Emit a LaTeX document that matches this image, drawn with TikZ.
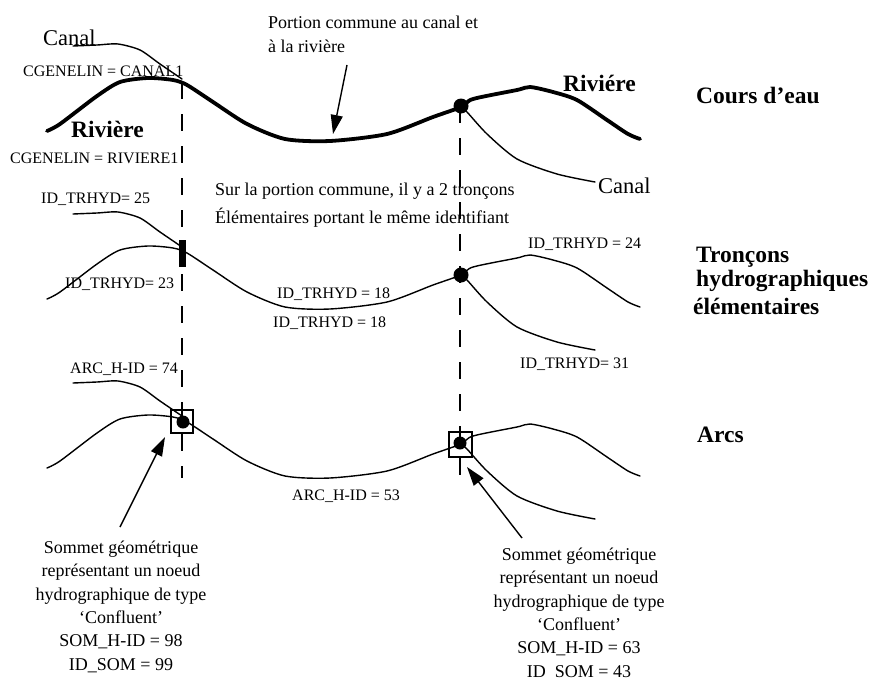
\documentclass[tikz,border=0pt]{standalone}
\usepackage{fontspec}
\setmainfont{Liberation Serif}
\usetikzlibrary{arrows.meta}
\begin{document}
\begin{tikzpicture}[x=1pt,y=-1pt,
  thinline/.style={line width=1.4pt, line join=round, line cap=round},
  guide/.style={line width=1.4pt, dash pattern=on 17pt off 15pt},
  lbl/.style={anchor=base west, inner sep=0pt, font=\fontsize{16}{19}\selectfont},
  bodytxt/.style={anchor=base west, inner sep=0pt, font=\fontsize{18}{24}\selectfont},
  ttl/.style={anchor=base west, inner sep=0pt, font=\fontsize{23.5}{26}\selectfont\bfseries},
  canaltxt/.style={anchor=base west, inner sep=0pt, font=\fontsize{22.5}{26}\selectfont},
  pointer/.style={line width=1.4pt, -{Triangle[length=19pt,width=12pt]}},
  note/.style={align=center, inner sep=0pt, anchor=north, font=\fontsize{18}{23.4}\selectfont},
  junction/.style={line width=1.6pt, fill=white},
]
\useasboundingbox (0,0) rectangle (872,677);

% dashed guide lines
\coordinate (gL1) at (182,82);
\coordinate (gL2) at (182,478);
\coordinate (gR1) at (460,106);
\coordinate (gR2) at (460,478);
\draw[guide] (gL1) -- (gL2);
\draw[guide] (gR1) -- (gR2);

% three rows of the same network
\foreach \dy/\mw in {-168/3.8pt, 0/1.4pt, 169/1.4pt}{
  \begin{scope}[shift={(0,\dy)}]
    \draw[thinline, line width=\mw] plot[smooth, tension=0.45] coordinates {
      (47,299) (60,292) (97,264) (120,250) (148,246) (173,248) (187,253)
      (213,270) (247,292) (285,307) (330,309) (387,302) (433,285) (461,275)
      (473,267) (517,258) (530,255) (553,260) (577,268) (607,288) (628,302) (640,307)};
    \draw[thinline] plot[smooth, tension=0.45] coordinates {
      (73,214) (97,213) (118,212) (140,218) (160,232) (182,247)};
    \draw[thinline] plot[smooth, tension=0.45] coordinates {
      (461,275) (467,280) (487,302) (517,327) (557,342) (595,350)};
  \end{scope}
}

% row 1 junction
\fill (461,106) circle (7.5);
% row 2 junctions
\fill (179,240) rectangle (186,267);
\fill (461,275) circle (7.5);
% row 3 junctions
\draw[line width=1.6pt] (171,410) rectangle (193,433);
\fill (183,422) circle (6.5);
\draw[line width=1.6pt] (449,432) rectangle (472,457);
\fill (460,443) circle (6.5);

% arrows
\coordinate (a1s) at (347,65);
\coordinate (a1e) at (333,134);
\coordinate (a2s) at (120,527);
\coordinate (a2e) at (165,437);
\coordinate (a3s) at (522,538);
\coordinate (a3e) at (467,467);
\draw[pointer] (a1s) -- (a1e);
\draw[pointer] (a2s) -- (a2e);
\draw[pointer] (a3s) -- (a3e);

% texts row 1
\node[bodytxt, align=left, anchor=north west, font=\fontsize{18}{24}\selectfont] (portion) at (268,15.7)
  {Portion commune au canal et\\à la rivière};
\node[canaltxt] (canalA) at (43,46) {Canal};
\node[lbl] (cgcanal) at (23,77) {CGENELIN = CANAL1};
\node[ttl] (rivA) at (71,137) {Rivière};
\node[lbl] (cgriv) at (10,163) {CGENELIN = RIVIERE1};
\node[ttl] (rivB) at (563,92) {Riviére};
\node[canaltxt] (canalB) at (598,193) {Canal};
\node[ttl] (cours) at (696,103) {Cours d’eau};

% texts row 2
\node[bodytxt, align=left, anchor=north west, font=\fontsize{18}{28}\selectfont] (sur) at (215,182.7)
  {Sur la portion commune, il y a 2 tronçons\\Élémentaires portant le même identifiant};
\node[lbl] (t25) at (41,203) {ID\_TRHYD= 25};
\node[lbl] (t23) at (65,288) {ID\_TRHYD= 23};
\node[lbl] (t18a) at (277,298) {ID\_TRHYD = 18};
\node[lbl] (t18b) at (273,327) {ID\_TRHYD = 18};
\node[lbl] (t24) at (528,248) {ID\_TRHYD = 24};
\node[lbl] (t31) at (520,368) {ID\_TRHYD= 31};
\node[ttl] (tr1) at (696,262) {Tronçons};
\node[ttl] (tr2) at (696,286) {hydrographiques};
\node[ttl] (tr3) at (693,314) {élémentaires};

% texts row 3
\node[lbl] (a74) at (70,373) {ARC\_H-ID = 74};
\node[lbl] (a53) at (292,500) {ARC\_H-ID = 53};
\node[ttl] (arcs) at (697,442) {Arcs};

\node[note] (somL) at (121,540.5)
  {Sommet géométrique\\représentant un noeud\\hydrographique de type\\‘Confluent’\\SOM\_H-ID = 98\\ID\_SOM = 99};
\node[note] (somR) at (579,547.5)
  {Sommet géométrique\\représentant un noeud\\hydrographique de type\\‘Confluent’\\SOM\_H-ID = 63\\ID\_SOM = 43};
\end{tikzpicture}
\end{document}
